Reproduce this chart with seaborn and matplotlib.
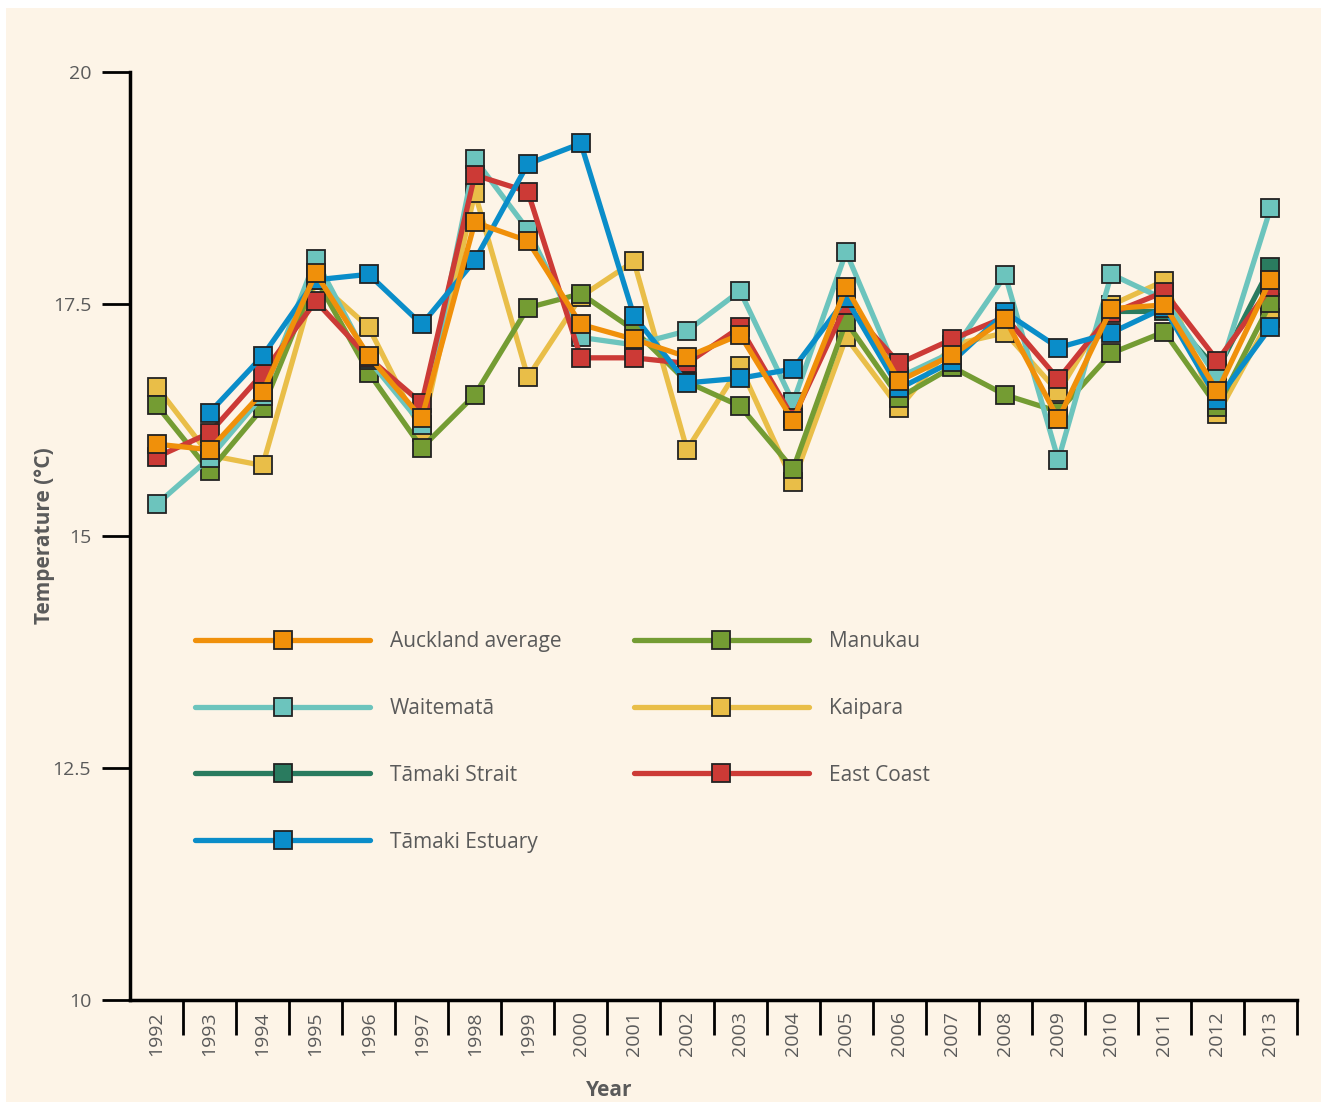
import numpy as np
import pandas as pd
import seaborn as sns
import matplotlib.pyplot as plt
from matplotlib.patches import Rectangle

years = list(range(1992, 2014))

auckland_avg = [15.99, 15.93, 16.55, 17.83, 16.94, 16.27, 18.38, 18.18, 17.28, 17.12, 16.93,
                17.17, 16.24, 17.68, 16.67, 16.95, 17.34, 16.26, 17.45, 17.49, 16.56, 17.76]
waitemata = [15.34, 15.84, 16.51, 17.98, 16.90, 16.20, 19.06, 18.30, 17.14, 17.06, 17.21,
             17.64, 16.44, 18.06, 16.71, 16.98, 17.81, 15.82, 17.82, 17.55, 16.70, 18.53]
tamaki_strait = [np.nan] * 18 + [17.42, 17.42, 16.79, 17.90]
tamaki_estuary = [np.nan, 16.33, 16.94, 17.76, 17.82, 17.28, 17.97, 19.01, 19.23, 17.37, 16.65,
                  16.70, 16.80, 17.56, 16.59, 16.88, 17.41, 17.03, 17.19, 17.46, 16.47, 17.25]
manukau = [16.41, 15.70, 16.38, 17.78, 16.76, 15.95, 16.52, 17.46, 17.61, 17.22, 16.66,
           16.40, 15.72, 17.31, 16.49, 16.82, 16.52, 16.34, 16.97, 17.20, 16.39, 17.51]
kaipara = [16.61, 15.87, 15.76, 17.76, 17.25, 16.12, 18.70, 16.71, 17.58, 17.96, 15.93,
           16.83, 15.58, 17.14, 16.38, 17.06, 17.19, 16.55, 17.49, 17.75, 16.31, 17.35]
east_coast = [15.85, 16.11, 16.75, 17.53, 16.92, 16.43, 18.89, 18.71, 16.92, 16.92, 16.86,
              17.25, 16.27, 17.49, 16.86, 17.12, 17.36, 16.69, 17.40, 17.63, 16.89, 17.68]

series = {
    "Tāmaki Strait": (tamaki_strait, "#2A7B5F"),
    "Kaipara": (kaipara, "#E9BE48"),
    "Manukau": (manukau, "#749C33"),
    "Waitematā": (waitemata, "#6CC4BD"),
    "East Coast": (east_coast, "#CC3A36"),
    "Tāmaki Estuary": (tamaki_estuary, "#0A8DC9"),
    "Auckland average": (auckland_avg, "#F0900A"),
}
legend_order = ["Auckland average", "Waitematā", "Tāmaki Strait", "Tāmaki Estuary",
                "Manukau", "Kaipara", "East Coast"]

cream = "#FDF4E7"
grey = "#5A5A5A"

sns.set_style("ticks")
plt.rcParams["font.family"] = ["Open Sans", "DejaVu Sans"]

fig = plt.figure(figsize=(13.21, 11.02), dpi=100, facecolor="white")
fig.patches.append(Rectangle((6 / 1321, 0), 1, 1 - 8 / 1102, transform=fig.transFigure,
                             facecolor=cream, edgecolor="none", zorder=-10))
ax = fig.add_axes([130 / 1321, 1 - 1000 / 1102, 1167 / 1321, 928 / 1102])
ax.set_facecolor(cream)

idx = np.arange(len(years))
handles = {}
for name, (vals, col) in series.items():
    df = pd.DataFrame({"x": idx, "y": vals}).dropna()
    sns.lineplot(data=df, x="x", y="y", ax=ax, color=col, linewidth=3.8,
                 marker="s", markersize=12.5, markeredgecolor="#222222",
                 markeredgewidth=1.3, legend=False)
    handles[name] = ax.get_lines()[-1]

ax.set_xlim(-0.5, len(years) - 0.5)
ax.set_ylim(10, 20)

ax.set_yticks([10, 12.5, 15, 17.5, 20])
ax.set_yticklabels(["10", "12.5", "15", "17.5", "20"])
ax.tick_params(axis="y", length=20, width=2, color="black", labelsize=14,
               labelcolor=grey, pad=8)

ax.set_xticks(idx + 0.5)
ax.set_xticklabels([])
ax.set_xticks(idx, minor=True)
ax.set_xticklabels([str(y) for y in years], minor=True, rotation=90)
ax.tick_params(axis="x", which="major", length=25, width=2, color="black", direction="out")
ax.tick_params(axis="x", which="minor", length=0, labelsize=14, labelcolor=grey, pad=8)

for s in ["top", "right"]:
    ax.spines[s].set_visible(False)
for s in ["left", "bottom"]:
    ax.spines[s].set_linewidth(2.5)
    ax.spines[s].set_color("black")

ax.set_xlabel("Year", fontsize=15, fontweight="bold", color=grey)
ax.xaxis.set_label_coords(0.411, -0.086)
ax.set_ylabel("Temperature (°C)", fontsize=15, fontweight="bold", color=grey)
ax.yaxis.set_label_coords(-0.064, 0.5)

ax.legend([handles[n] for n in legend_order], legend_order, ncol=2, frameon=False,
          loc="upper left", bbox_to_anchor=(0.0557, 0.3975), borderaxespad=0, borderpad=0,
          handlelength=8.4, handletextpad=0.96, columnspacing=3.45, labelspacing=2.2,
          prop={"size": 15}, labelcolor=grey)

fig.savefig("out.png", dpi=100, facecolor=fig.get_facecolor())
